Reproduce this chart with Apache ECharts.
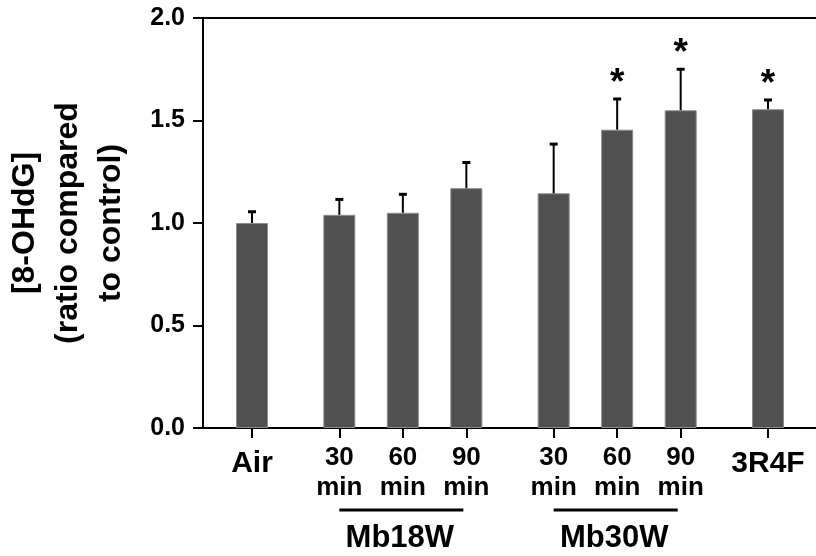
<!DOCTYPE html>
<html>
<head>
<meta charset="utf-8">
<script src="https://cdn.jsdelivr.net/npm/echarts@6/dist/echarts.min.js"></script>
<style>
html,body{margin:0;padding:0;background:#fff;}
#chart{width:816px;height:556px;}
</style>
</head>
<body>
<div id="chart"></div>
<script>
// ---- data ----
const categories = ['Air', '30\nmin', '60\nmin', '90\nmin', '30\nmin', '60\nmin', '90\nmin', '3R4F'];
const xPos = [0, 1.375, 2.375, 3.375, 4.75, 5.75, 6.75, 8.125];
const means = [1.00, 1.04, 1.05, 1.17, 1.145, 1.455, 1.55, 1.555];
const errs = [0.055, 0.075, 0.09, 0.125, 0.24, 0.15, 0.20, 0.045];
const sig = ['', '', '', '', '', '*', '*', '*'];
const groupNames = ['Mb18W', 'Mb30W'];
const groupFrom = [1.375, 4.75];
const groupTo = [3.375, 6.75];

const FONT = '"Liberation Sans", Arial, sans-serif';

const chart = echarts.init(document.getElementById('chart'), null, {renderer: 'canvas'});

function labelFor(v) {
  for (let i = 0; i < xPos.length; i++) {
    if (Math.abs(xPos[i] - v) < 1e-6) {
      const c = categories[i];
      if (c.indexOf('\n') >= 0) {
        return c.split('\n').map(s => '{small|' + s + '}').join('\n');
      }
      return '{big|' + c + '}';
    }
  }
  return '';
}

const option = {
  animation: false,
  backgroundColor: '#fff',
  textStyle: {fontFamily: FONT},
  grid: {left: 203, right: 0, top: 18, bottom: 128, containLabel: false, outerBoundsMode: 'none'},
  xAxis: [{
    type: 'value',
    position: 'bottom',
    min: -0.772,
    max: 8.881,
    splitLine: {show: false},
    axisLine: {show: true, onZero: false, lineStyle: {color: '#000', width: 2}},
    axisTick: {show: true, customValues: xPos, length: 10, inside: false, lineStyle: {color: '#000', width: 2}},
    axisLabel: {
      show: true,
      customValues: xPos,
      margin: 15,
      formatter: labelFor,
      rich: {
        small: {fontSize: 26, fontWeight: 'bold', lineHeight: 30, color: '#000', fontFamily: FONT, align: 'center'},
        big: {fontSize: 30, fontWeight: 'bold', lineHeight: 41, color: '#000', fontFamily: FONT, align: 'center'}
      }
    }
  }, {
    type: 'value',
    position: 'top',
    min: -0.772,
    max: 8.881,
    splitLine: {show: false},
    axisLine: {show: true, onZero: false, lineStyle: {color: '#000', width: 2}},
    axisTick: {show: false},
    axisLabel: {show: false}
  }],
  yAxis: {
    type: 'value',
    min: 0,
    max: 2,
    interval: 0.5,
    splitLine: {show: false},
    axisLine: {show: true, onZero: false, lineStyle: {color: '#000', width: 2}},
    axisTick: {show: true, length: 10, lineStyle: {color: '#000', width: 2}},
    axisLabel: {
      margin: 18,
      fontSize: 25,
      fontWeight: 'bold',
      color: '#000',
      fontFamily: FONT,
      formatter: v => v.toFixed(1)
    },
    name: '[8-OHdG]\n(ratio compared\nto control)',
    nameLocation: 'middle',
    nameGap: 70,
    nameTextStyle: {fontSize: 32, fontWeight: 'bold', color: '#000', lineHeight: 43, fontFamily: FONT, align: 'center'}
  },
  series: [{
    type: 'bar',
    xAxisIndex: 0,
    barWidth: 32,
    data: xPos.map((x, i) => [x, means[i]]),
    itemStyle: {color: '#505050', borderColor: '#8c8c8c', borderWidth: 1},
    z: 2
  }, {
    type: 'custom',
    xAxisIndex: 0,
    clip: false,
    z: 3,
    data: xPos.map((x, i) => [x, means[i], errs[i]]),
    renderItem: function (params, api) {
      const x = api.value(0), m = api.value(1), e = api.value(2);
      const b = api.coord([x, m]);
      const t = api.coord([x, m + e]);
      const children = [
        {type: 'line', shape: {x1: b[0], y1: b[1], x2: t[0], y2: t[1]}, style: {stroke: '#000', lineWidth: 2}},
        {type: 'line', shape: {x1: t[0] - 4, y1: t[1], x2: t[0] + 4, y2: t[1]}, style: {stroke: '#000', lineWidth: 3}}
      ];
      const s = sig[params.dataIndex];
      if (s) {
        children.push({type: 'text', style: {text: s, x: t[0], y: t[1] - 15, align: 'center', verticalAlign: 'middle', fontSize: 37, fontWeight: 'bold', fontFamily: FONT, fill: '#000'}});
      }
      return {type: 'group', children: children};
    }
  }, {
    type: 'custom',
    xAxisIndex: 0,
    clip: false,
    z: 3,
    data: groupNames.map((n, i) => [groupFrom[i], groupTo[i]]),
    renderItem: function (params, api) {
      const p1 = api.coord([api.value(0), 0]);
      const p2 = api.coord([api.value(1), 0]);
      const y = p1[1] + 82;
      return {type: 'group', children: [
        {type: 'line', shape: {x1: p1[0], y1: y, x2: p2[0] - 3, y2: y}, style: {stroke: '#000', lineWidth: 3}},
        {type: 'text', style: {text: groupNames[params.dataIndex], x: (p1[0] + p2[0]) / 2 - 3, y: y + 28, align: 'center', verticalAlign: 'middle', fontSize: 31, fontWeight: 'bold', fontFamily: FONT, fill: '#000'}}
      ]};
    }
  }]
};

chart.setOption(option);
</script>
</body>
</html>
